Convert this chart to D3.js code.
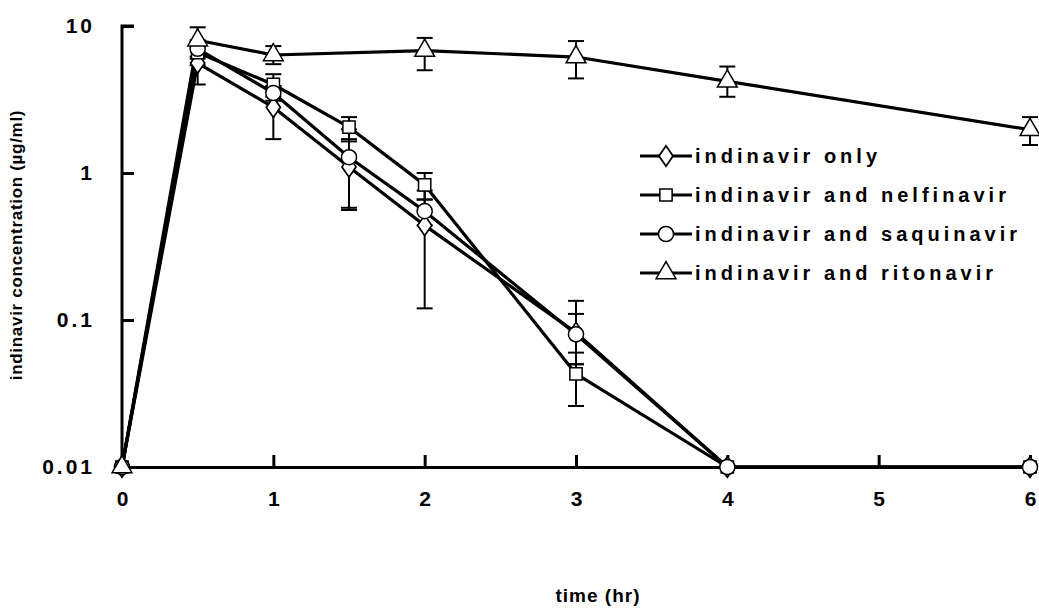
<!DOCTYPE html>
<html>
<head>
<meta charset="utf-8">
<script src="https://cdn.jsdelivr.net/npm/d3@7"></script>
<style>
  body { margin: 0; background: #fff; }
  text { font-family: "Liberation Sans", Arial, sans-serif; font-weight: bold; }
</style>
</head>
<body>
<div id="chart"></div>
<script>
var width = 1039, height = 608;

// time points (hr)
var times = [0, 0.5, 1, 1.5, 2, 3, 4, 6];
var xTicks = [0, 1, 2, 3, 4, 5, 6];
var yTicks = [10, 1, 0.1, 0.01];

var seriesNames = ["indinavir only", "indinavir and nelfinavir", "indinavir and saquinavir", "indinavir and ritonavir"];
var seriesSymbols = ["diamond", "square", "circle", "triangle"];

// mean values (null = not measured)
var onlyVals   = [0.01, 5.6, 2.8, 1.1, 0.44, 0.082, 0.01, 0.01];
var nelfVals   = [0.01, 6.6, 4.0, 2.05, 0.83, 0.043, 0.01, 0.01];
var saquVals   = [0.01, 7.0, 3.5, 1.28, 0.55, 0.080, 0.01, 0.01];
var ritoVals   = [0.01, 8.0, 6.35, null, 6.8, 6.15, 4.2, 1.97];

// error bar ranges [low, high] (null = none)
var onlyErr = [null, [4.0, 7.2], [1.7, 3.9], [0.56, 1.64], [0.12, 0.76], [0.05, 0.11], null, null];
var nelfErr = [null, [5.4, 7.8], [3.3, 4.7], [1.7, 2.4], [0.66, 1.0], [0.026, 0.06], null, null];
var saquErr = [null, [6.0, 8.0], [3.1, 3.9], [0.58, 1.98], [0.44, 0.66], [0.05, 0.135], null, null];
var ritoErr = [null, [6.2, 9.8], [5.5, 7.3], null, [5.0, 8.3], [4.4, 7.9], [3.3, 5.3], [1.55, 2.4]];

var allVals = [onlyVals, nelfVals, saquVals, ritoVals];
var allErr = [onlyErr, nelfErr, saquErr, ritoErr];

var svg = d3.select("#chart").append("svg")
  .attr("width", width)
  .attr("height", height);

var x = d3.scaleLinear().domain([0, 6]).range([122, 1030]);
var y = d3.scaleLog().domain([0.01, 10]).range([467, 26]);

function styleTicks(g) {
  g.selectAll(".tick line").attr("stroke-width", 3);
  g.selectAll(".tick text")
    .attr("font-size", 21)
    .attr("letter-spacing", 3)
    .attr("fill", "#000")
    .style("font-family", "Liberation Sans, Arial, sans-serif")
    .style("font-weight", "bold");
}

// axes
var xAxis = svg.append("g")
  .attr("transform", "translate(0," + y(0.01) + ")")
  .call(d3.axisBottom(x).tickValues(xTicks).tickSize(-12).tickPadding(24).tickFormat(d3.format("d")));
xAxis.select(".domain").attr("stroke", "#000").attr("stroke-width", 3);
styleTicks(xAxis);
xAxis.selectAll(".tick text").attr("dx", 1.5);

var yAxis = svg.append("g")
  .attr("transform", "translate(" + x(0) + ",0)")
  .call(d3.axisLeft(y).tickValues(yTicks).tickSize(-12).tickPadding(27)
    .tickFormat(function(d) { return String(d); }));
yAxis.select(".domain").attr("stroke", "#000").attr("stroke-width", 3)
  .attr("d", "M12," + y(10) + "H0V" + y(0.01));
styleTicks(yAxis);

// axis titles
svg.append("text")
  .attr("transform", "translate(22," + 245 + ") rotate(-90)")
  .attr("text-anchor", "middle")
  .attr("font-size", 17)
  .attr("letter-spacing", 0.7)
  .text("indinavir concentration (\u00b5g/ml)");

svg.append("text")
  .attr("x", 598).attr("y", 602)
  .attr("text-anchor", "middle")
  .attr("font-size", 19)
  .attr("letter-spacing", 1)
  .text("time (hr)");

// error bars
allErr.forEach(function(errs) {
  errs.forEach(function(e, i) {
    if (!e) return;
    var g = svg.append("g").attr("stroke", "#000").attr("stroke-width", 2);
    g.append("line").attr("x1", x(times[i])).attr("x2", x(times[i]))
      .attr("y1", y(e[0])).attr("y2", y(e[1]));
    g.append("line").attr("x1", x(times[i]) - 8).attr("x2", x(times[i]) + 8)
      .attr("y1", y(e[0])).attr("y2", y(e[0]));
    g.append("line").attr("x1", x(times[i]) - 8).attr("x2", x(times[i]) + 8)
      .attr("y1", y(e[1])).attr("y2", y(e[1]));
  });
});

// lines
var line = d3.line()
  .x(function(d) { return x(d[0]); })
  .y(function(d) { return y(d[1]); });

allVals.forEach(function(vals) {
  var pts = times.map(function(t, i) { return [t, vals[i]]; }).filter(function(d) { return d[1] != null; });
  svg.append("path")
    .datum(pts)
    .attr("d", line)
    .attr("fill", "none")
    .attr("stroke", "#000")
    .attr("stroke-width", 3.2)
    .attr("stroke-linejoin", "round");
});

var symbolMap = {
  diamond: d3.symbolDiamond,
  square: d3.symbolSquare,
  circle: d3.symbolCircle,
  triangle: d3.symbolTriangle
};
var symbolSize = { diamond: 120, square: 150, circle: 180, triangle: 170 };

function drawMarker(g, sym, cx, cy) {
  var path = d3.symbol().type(symbolMap[sym]).size(symbolSize[sym]);
  g.append("path")
    .attr("d", path)
    .attr("transform", "translate(" + cx + "," + cy + ")" + (sym === "diamond" ? " scale(1.2,1)" : ""))
    .attr("fill", "#fff")
    .attr("stroke", "#000")
    .attr("stroke-width", 1.5);
}

allVals.forEach(function(vals, s) {
  var g = svg.append("g");
  vals.forEach(function(v, i) {
    if (v == null) return;
    drawMarker(g, seriesSymbols[s], x(times[i]), y(v));
  });
});

// legend
var legend = svg.append("g");
var legendY = [156, 195, 234, 273];
seriesNames.forEach(function(name, i) {
  legend.append("line")
    .attr("x1", 640).attr("x2", 692)
    .attr("y1", legendY[i]).attr("y2", legendY[i])
    .attr("stroke", "#000").attr("stroke-width", 3);
  drawMarker(legend, seriesSymbols[i], 666, legendY[i]);
  legend.append("text")
    .attr("x", 695).attr("y", legendY[i] + 7)
    .attr("font-size", 20)
    .attr("letter-spacing", 4)
    .text(name);
});
</script>
</body>
</html>
